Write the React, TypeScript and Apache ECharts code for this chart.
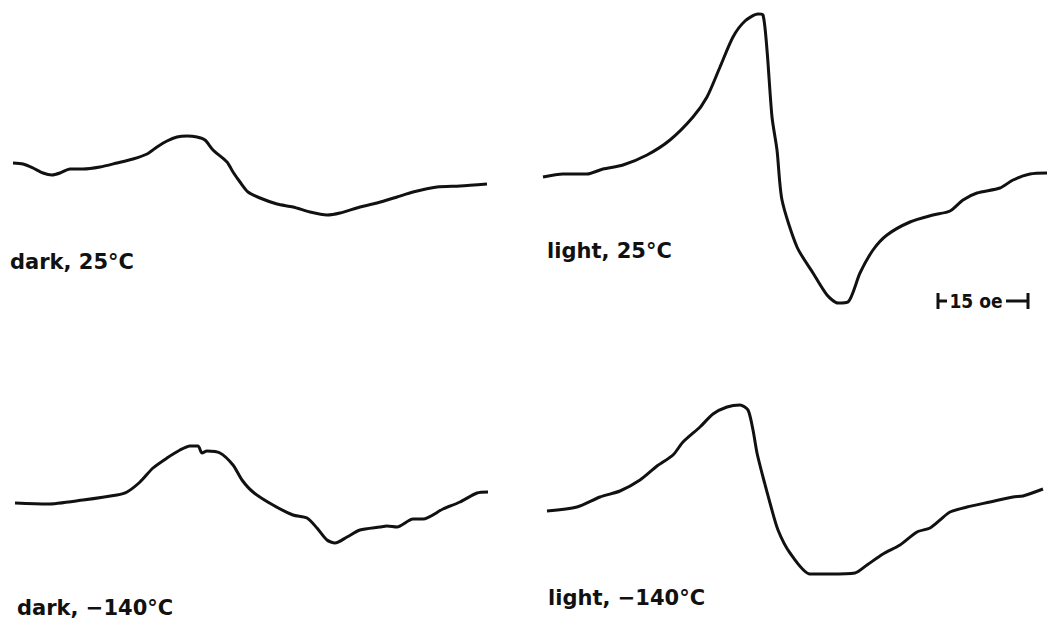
import React, { useEffect, useRef } from "react";
import * as echarts from "echarts";

// Field position (arbitrary chart units) vs. derivative signal (arbitrary units)
const dark25: number[][] = [
  [13, 17], [23, 16], [33, 12], [43, 7], [52, 5], [60, 7], [70, 11], [83, 11], [100, 13],
  [117, 17], [133, 21], [147, 26], [157, 33], [167, 39], [177, 43], [187, 44], [197, 43],
  [205, 40], [213, 30], [227, 18], [233, 8], [240, -2], [248, -12], [260, -18], [277, -24],
  [293, -27], [310, -32], [327, -35], [340, -33], [360, -27], [377, -23], [397, -17],
  [413, -12], [437, -7], [460, -6], [487, -4],
];
const light25: number[][] = [
  [19, 3], [39, 6], [63, 6], [79, 11], [99, 15], [123, 25], [146, 40], [169, 63], [183, 83],
  [196, 113], [209, 143], [221, 159], [234, 166], [239, 165], [243, 130], [248, 63],
  [253, 30], [258, -20], [273, -67], [289, -93], [303, -115], [314, -123], [324, -122],
  [336, -93], [349, -70], [363, -55], [386, -42], [409, -35], [426, -31], [439, -20],
  [453, -13], [476, -8], [489, 0], [506, 6], [523, 7],
];
const darkMinus140: number[][] = [
  [15, 7], [47, 6], [83, 10], [117, 15], [127, 18], [140, 28], [153, 42], [167, 52],
  [180, 60], [190, 64], [198, 64], [202, 57], [207, 59], [220, 57], [233, 45], [242, 30],
  [253, 18], [273, 5], [293, -5], [307, -8], [317, -18], [327, -30], [335, -33], [347, -27],
  [360, -20], [380, -17], [387, -16], [397, -17], [413, -9], [423, -9], [443, 1], [460, 8],
  [477, 17], [488, 18],
];
const lightMinus140: number[][] = [
  [23, -1], [53, 3], [76, 13], [96, 19], [116, 30], [133, 44], [149, 55], [159, 68],
  [176, 83], [189, 96], [203, 103], [216, 105], [224, 100], [229, 80], [233, 57], [239, 33],
  [246, 7], [254, -20], [266, -43], [286, -64], [306, -64], [331, -63], [343, -55],
  [359, -44], [376, -35], [393, -22], [406, -18], [416, -10], [426, -2], [443, 3], [466, 8],
  [489, 13], [499, 14], [519, 21],
];
const panelLabels = ["dark, 25°C", "light, 25°C", "dark, −140°C", "light, −140°C"];
const scaleLabel = "15 oe";

export default function App() {
  const ref = useRef<HTMLDivElement>(null);
  useEffect(() => {
    if (!ref.current) return;
    const chart = echarts.init(ref.current, undefined, { renderer: "svg" });
    const W = 524;
    const H = 313;
    const grids = [
      { left: 0, top: 0, width: W, height: H },
      { left: W, top: 0, width: W, height: H },
      { left: 0, top: H, width: W, height: H },
      { left: W, top: H, width: W, height: H },
    ];
    const yRanges = [
      [-133, 180],
      [-133, 180],
      [-116, 197],
      [-116, 197],
    ];
    const datasets = [dark25, light25, darkMinus140, lightMinus140];
    const labelFont = {
      fontFamily: "DejaVu Sans",
      fontWeight: "bold" as const,
      fontSize: 21,
      fill: "#111",
    };
    const labelPos = [
      [10, 262],
      [547, 251],
      [17, 608],
      [548, 598],
    ];
    const stroke = { stroke: "#111", lineWidth: 3 };
    chart.setOption({
      animation: false,
      backgroundColor: "#ffffff",
      grid: grids.map((g) => ({ ...g, containLabel: false })),
      xAxis: grids.map((_, i) => ({
        type: "value",
        gridIndex: i,
        min: 0,
        max: W,
        show: false,
      })),
      yAxis: grids.map((_, i) => ({
        type: "value",
        gridIndex: i,
        min: yRanges[i][0],
        max: yRanges[i][1],
        show: false,
      })),
      series: datasets.map((d, i) => ({
        type: "line",
        xAxisIndex: i,
        yAxisIndex: i,
        data: d,
        showSymbol: false,
        smooth: 0.25,
        lineStyle: { color: "#111", width: 3 },
        silent: true,
      })),
      graphic: [
        ...panelLabels.map((t, i) => ({
          type: "text",
          x: labelPos[i][0],
          y: labelPos[i][1],
          style: { ...labelFont, text: t, verticalAlign: "middle", align: "left" },
        })),
        {
          type: "text",
          x: 976,
          y: 301,
          style: {
            ...labelFont,
            fontFamily: "DejaVu Sans Condensed, DejaVu Sans",
            fontSize: 19,
            text: scaleLabel,
            align: "center",
            verticalAlign: "middle",
          },
        },
        { type: "line", shape: { x1: 938, y1: 301, x2: 947, y2: 301 }, style: stroke },
        { type: "line", shape: { x1: 938, y1: 293, x2: 938, y2: 309 }, style: stroke },
        { type: "line", shape: { x1: 1006, y1: 301, x2: 1028, y2: 301 }, style: stroke },
        { type: "line", shape: { x1: 1028, y1: 293, x2: 1028, y2: 309 }, style: stroke },
      ],
    });
    return () => chart.dispose();
  }, []);
  return (
    <div
      ref={ref}
      style={{ position: "absolute", left: 0, top: 0, width: 1048, height: 626, background: "#fff" }}
    />
  );
}
